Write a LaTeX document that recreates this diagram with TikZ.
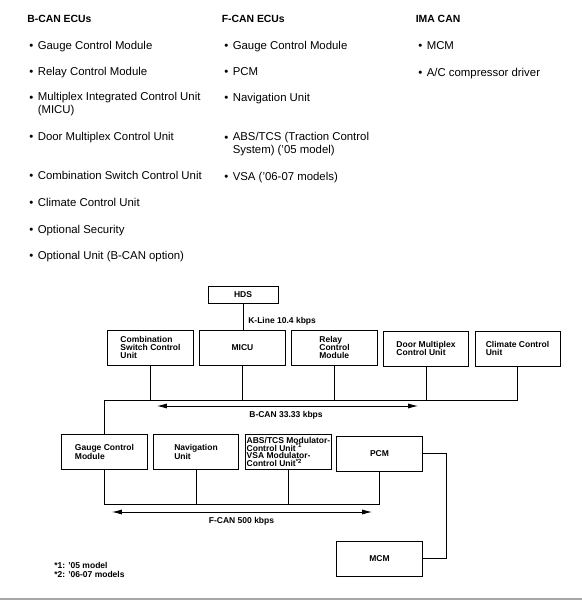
\documentclass[tikz,border=0pt]{standalone}
\usepackage{fontspec}
\setmainfont{Liberation Sans}
\usetikzlibrary{arrows.meta}

\begin{document}
\begin{tikzpicture}[x=0.025cm,y=-0.025cm,
        box/.style={draw, line width=0.7pt, minimum width=2.125cm, minimum height=0.875cm,
            inner sep=1pt, align=left, font=\fontsize{6.05}{5.9}\selectfont\bfseries},
        wire/.style={line width=0.6pt},
        bus/.style={line width=0.6pt, {Latex[length=7pt,width=3.6pt]}-{Latex[length=7pt,width=3.6pt]}},
        lbl/.style={inner sep=0pt, font=\fontsize{6.05}{7}\selectfont\bfseries},
        head/.style={inner sep=0pt, anchor=base west, font=\fontsize{7.4}{8}\selectfont\bfseries},
        item/.style={inner sep=0pt, anchor=base west, align=left, font=\fontsize{8.1}{8.75}\selectfont}]
    \useasboundingbox (0,0) rectangle (582,600);
    % lists (two-line items sit on the baseline of their last line)
        \node[head] (bhead) at (27,22) {B-CAN ECUs};
        \foreach \y/\d/\t [count=\i] in {49/49/Gauge Control Module, 75/75/Relay Control Module,
                113/101/{Multiplex Integrated Control Unit\\(MICU)}, 140/140/Door Multiplex Control Unit,
                179/179/Combination Switch Control Unit, 206/206/Climate Control Unit,
                233/233/Optional Security, 259/259/Optional Unit (B-CAN option)} {
            \node[item] (bdot\i) at (29,\d) {•};
            \node[item] (b\i) at (37.5,\y) {\t};
        }
        \node[head] (fhead) at (221.5,22) {F-CAN ECUs};
        \foreach \y/\d/\t [count=\i] in {49/49/Gauge Control Module, 75/75/PCM, 101/101/Navigation Unit,
                153/141/{ABS/TCS (Traction Control\\System) (’05 model)}, 180/180/VSA (’06-07 models)} {
            \node[item] (fdot\i) at (224,\d) {•};
            \node[item] (f\i) at (232.5,\y) {\t};
        }
        \node[head] (ihead) at (415.5,22) {IMA CAN};
        \foreach \y/\t [count=\i] in {49/MCM, 76/{A/C compressor driver}} {
            \node[item] (idot\i) at (418,\y) {•};
            \node[item] (i\i) at (426.5,\y) {\t};
        }
    % boxes
        \node[box, minimum width=1.75cm, minimum height=0.425cm] (hds) at (243,294.5) {HDS};
        \node[box] (comb) at (150.5,347.5) {Combination\\Switch Control\\Unit};
        \node[box] (micu) at (242.5,347.5) {MICU};
        \node[box] (relay) at (334.5,347.5) {Relay\\Control\\Module};
        \node[box] (door) at (426,348.5) {Door Multiplex\\Control Unit};
        \node[box] (climate) at (517.5,348.5) {Climate Control\\Unit};
        \node[box] (gauge) at (104.5,452) {Gauge Control\\Module};
        \node[box] (nav) at (196,452) {Navigation\\Unit};
        \node[box, font=\fontsize{6.05}{5.6}\selectfont\bfseries] (abs) at (288.5,452)
            {ABS/TCS Modulator-\\Control Unit\smash{\textsuperscript{*1}}\\VSA Modulator-\\Control Unit\smash{\textsuperscript{*2}}};
        \node[box] (pcm) at (379.5,453.5) {PCM};
        \node[box] (mcm) at (379.5,558.5) {MCM};
    % lines
        \coordinate (bcan) at (0,400);
        \coordinate (fcan) at (0,504);
        \draw[wire] (hds.south) -- (hds.south |- micu.north);
        \draw[wire] (gauge.north) -- (gauge.north |- bcan) -- (climate.south |- bcan) -- (climate.south);
        \foreach \n in {comb,micu,relay,door}
            \draw[wire] (\n.south) -- (\n.south |- bcan);
        \draw[wire] (gauge.south) -- (gauge.south |- fcan) -- (pcm.south |- fcan) -- (pcm.south);
        \foreach \n in {nav,abs}
            \draw[wire] (\n.south) -- (\n.south |- fcan);
        \draw[wire] (pcm.east) -- ++(24,0) |- (mcm.east);
        \coordinate (bl) at (157,406);
        \coordinate (br) at (418,406);
        \draw[bus] (bl) -- (br);
        \coordinate (fl) at (112,512);
        \coordinate (fr) at (372,512);
        \draw[bus] (fl) -- (fr);
        \draw[gray!70, line width=0.8pt] (0,599) -- (582,599);
    %nodes
        \node[lbl, anchor=west] (kline) at (248,321) {K-Line 10.4 kbps};
        \node[lbl] (bcanlbl) at (286,415) {B-CAN 33.33 kbps};
        \node[lbl] (fcanlbl) at (241.5,521) {F-CAN 500 kbps};
        \node[lbl, anchor=west, align=left, font=\fontsize{6.05}{5.9}\selectfont\bfseries] (notes) at (54,570)
            {*1: ’05 model\\*2: ’06-07 models};
\end{tikzpicture}
\end{document}
